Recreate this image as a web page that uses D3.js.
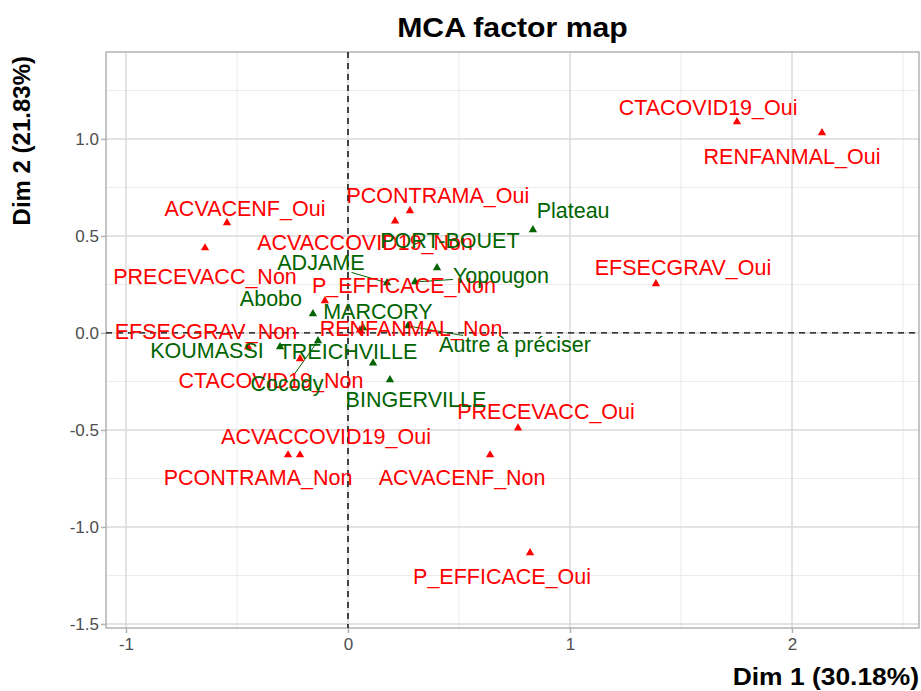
<!DOCTYPE html>
<html>
<head>
<meta charset="utf-8">
<script src="https://cdn.jsdelivr.net/npm/d3@7"></script>
<style>
  body { margin: 0; background: #fff; }
  svg { font-family: "Liberation Sans", Arial, sans-serif; }
</style>
</head>
<body>
<svg width="921" height="691"></svg>
<script>
// active categories (red)
var varNames = ["CTACOVID19_Oui", "RENFANMAL_Oui", "EFSECGRAV_Oui", "PCONTRAMA_Oui",
    "ACVACCOVID19_Non", "ACVACENF_Oui", "PRECEVACC_Non", "P_EFFICACE_Non",
    "RENFANMAL_Non", "EFSECGRAV_Non", "CTACOVID19_Non", "PRECEVACC_Oui",
    "ACVACCOVID19_Oui", "PCONTRAMA_Non", "ACVACENF_Non", "P_EFFICACE_Oui"];
var varDim1 = [1.752, 2.135, 1.387, 0.279, 0.212, -0.545, -0.644, -0.104,
    0.054, -0.450, -0.216, 0.766, -0.216, -0.270, 0.640, 0.820];
var varDim2 = [1.088, 1.031, 0.253, 0.629, 0.577, 0.567, 0.438, 0.165,
    0.015, -0.072, -0.134, -0.490, -0.629, -0.629, -0.629, -1.134];
// repelled label positions (data units)
var varLabX = [1.622, 2.000, 1.509, 0.405, 0.077, -0.464, -0.644, 0.252,
    0.284, -0.640, -0.347, 0.892, -0.099, -0.405, 0.514, 0.694];
var varLabY = [1.160, 0.907, 0.335, 0.711, 0.464, 0.644, 0.289, 0.247,
    0.021, 0.010, -0.247, -0.407, -0.536, -0.747, -0.747, -1.253];

// supplementary categories (dark green)
var supNames = ["Plateau", "PORT-BOUET", "Yopougon", "ADJAME", "Abobo", "MARCORY",
    "Autre à préciser", "KOUMASSI", "Cocody", "TREICHVILLE", "BINGERVILLE"];
var supDim1 = [0.833, 0.401, 0.302, 0.176, -0.158, 0.068, 0.270, -0.306, -0.135, 0.113, 0.189];
var supDim2 = [0.531, 0.335, 0.263, 0.258, 0.098, 0.026, 0.036, -0.072, -0.041, -0.155, -0.242];
var supLabX = [1.014, 0.459, 0.689, -0.122, -0.347, 0.135, 0.752, -0.635, -0.275, 0.000, 0.306];
var supLabY = [0.629, 0.474, 0.294, 0.361, 0.180, 0.113, -0.057, -0.088, -0.263, -0.098, -0.345];

var xTicks = [-1, 0, 1, 2];
var yTicks = [-1.5, -1.0, -0.5, 0.0, 0.5, 1.0];

var svg = d3.select("svg");
var pLeft = 106, pRight = 919, pTop = 52, pBottom = 628;

var x = d3.scaleLinear().domain([-1.09, 2.572]).range([pLeft, pRight]);
var y = d3.scaleLinear().domain([-1.521, 1.448]).range([pBottom, pTop]);

var xMinor = [-0.5, 0.5, 1.5, 2.5];
var yMinor = [-1.25, -0.75, -0.25, 0.25, 0.75, 1.25];

var grid = svg.append("g");
grid.selectAll(".xminor").data(xMinor).enter().append("line")
    .attr("x1", d => x(d)).attr("x2", d => x(d)).attr("y1", pTop).attr("y2", pBottom)
    .attr("stroke", "#ebebeb").attr("stroke-width", 1);
grid.selectAll(".yminor").data(yMinor).enter().append("line")
    .attr("y1", d => y(d)).attr("y2", d => y(d)).attr("x1", pLeft).attr("x2", pRight)
    .attr("stroke", "#ebebeb").attr("stroke-width", 1);
grid.selectAll(".xmajor").data(xTicks).enter().append("line")
    .attr("x1", d => x(d)).attr("x2", d => x(d)).attr("y1", pTop).attr("y2", pBottom)
    .attr("stroke", "#dadada").attr("stroke-width", 1.5);
grid.selectAll(".ymajor").data(yTicks).enter().append("line")
    .attr("y1", d => y(d)).attr("y2", d => y(d)).attr("x1", pLeft).attr("x2", pRight)
    .attr("stroke", "#dadada").attr("stroke-width", 1.5);

svg.append("rect")
    .attr("x", pLeft).attr("y", pTop).attr("width", pRight - pLeft).attr("height", pBottom - pTop)
    .attr("fill", "none").attr("stroke", "#b3b3b3").attr("stroke-width", 1.5);

// axes
var xAxis = svg.append("g")
    .attr("transform", "translate(0," + pBottom + ")")
    .call(d3.axisBottom(x).tickValues(xTicks).tickSize(5).tickPadding(5));
var yAxis = svg.append("g")
    .attr("transform", "translate(" + pLeft + ",0)")
    .call(d3.axisLeft(y).tickValues(yTicks).tickSize(5).tickPadding(2));
[xAxis, yAxis].forEach(function (a) {
    a.select(".domain").remove();
    a.selectAll(".tick line").attr("stroke", "#b3b3b3").attr("stroke-width", 1.5);
    a.selectAll(".tick text").attr("fill", "#4d4d4d").style("font-size", "17px");
});
yAxis.selectAll(".tick text").text(d => d.toFixed(1));
xAxis.selectAll(".tick text").text(d => String(d));

// zero reference lines
svg.append("line").attr("x1", x(0)).attr("x2", x(0)).attr("y1", pTop).attr("y2", pBottom)
    .attr("stroke", "#000").attr("stroke-width", 1.4).attr("stroke-dasharray", "6,5");
svg.append("line").attr("y1", y(0)).attr("y2", y(0)).attr("x1", pLeft).attr("x2", pRight)
    .attr("stroke", "#000").attr("stroke-width", 1.4).attr("stroke-dasharray", "6,5");

var varData = varNames.map((n, i) => ({ name: n, px: varDim1[i], py: varDim2[i], lx: varLabX[i], ly: varLabY[i], col: "#ff0000" }));
var supData = supNames.map((n, i) => ({ name: n, px: supDim1[i], py: supDim2[i], lx: supLabX[i], ly: supLabY[i], col: "#006400" }));
var all = varData.concat(supData);

var segLayer = svg.append("g");
var tri = d3.symbol().type(d3.symbolTriangle).size(30);

svg.append("g").selectAll("path").data(varData).enter().append("path")
    .attr("d", tri).attr("fill", d => d.col)
    .attr("transform", d => "translate(" + x(d.px) + "," + y(d.py) + ")");
svg.append("g").selectAll("path").data(supData).enter().append("path")
    .attr("d", tri).attr("fill", d => d.col)
    .attr("transform", d => "translate(" + x(d.px) + "," + y(d.py) + ")");

var labels = svg.append("g").selectAll("text").data(all).enter().append("text")
    .attr("x", d => x(d.lx)).attr("y", d => y(d.ly)).attr("dy", "0.35em")
    .attr("text-anchor", "middle").attr("fill", d => d.col)
    .style("font-size", "21.5px")
    .text(d => d.name);

// leader segments, like ggrepel: drawn only when the point lies far from its label box
labels.each(function (d) {
    var b = this.getBBox();
    var x0 = b.x, x1 = b.x + b.width, y0 = b.y + 3, y1 = b.y + b.height - 3;
    var tx = x(d.px), ty = y(d.py);
    var nx = Math.max(x0, Math.min(tx, x1)), ny = Math.max(y0, Math.min(ty, y1));
    if (Math.hypot(tx - nx, ty - ny) <= 23) return;
    var cx = (x0 + x1) / 2, cy = (y0 + y1) / 2;
    var dx = tx - cx, dy = ty - cy;
    var t = Math.min(dx !== 0 ? (x1 - cx) / Math.abs(dx) : Infinity,
                     dy !== 0 ? (y1 - cy) / Math.abs(dy) : Infinity);
    segLayer.append("line")
        .attr("x1", cx + dx * t).attr("y1", cy + dy * t).attr("x2", tx).attr("y2", ty)
        .attr("stroke", d.col).attr("stroke-width", 1);
});

// titles
svg.append("text").attr("transform", "translate(" + ((pLeft + pRight) / 2) + ",37) scale(1.12,1)")
    .attr("text-anchor", "middle")
    .style("font-size", "27px").style("font-weight", "bold").text("MCA factor map");
svg.append("text").attr("transform", "translate(" + pRight + ",685) scale(1.1,1)")
    .attr("text-anchor", "end")
    .style("font-size", "24px").style("font-weight", "bold").text("Dim 1 (30.18%)");
svg.append("text").attr("transform", "translate(30,56) rotate(-90)").attr("text-anchor", "end")
    .style("font-size", "24px").style("font-weight", "bold").text("Dim 2 (21.83%)");
</script>
</body>
</html>
